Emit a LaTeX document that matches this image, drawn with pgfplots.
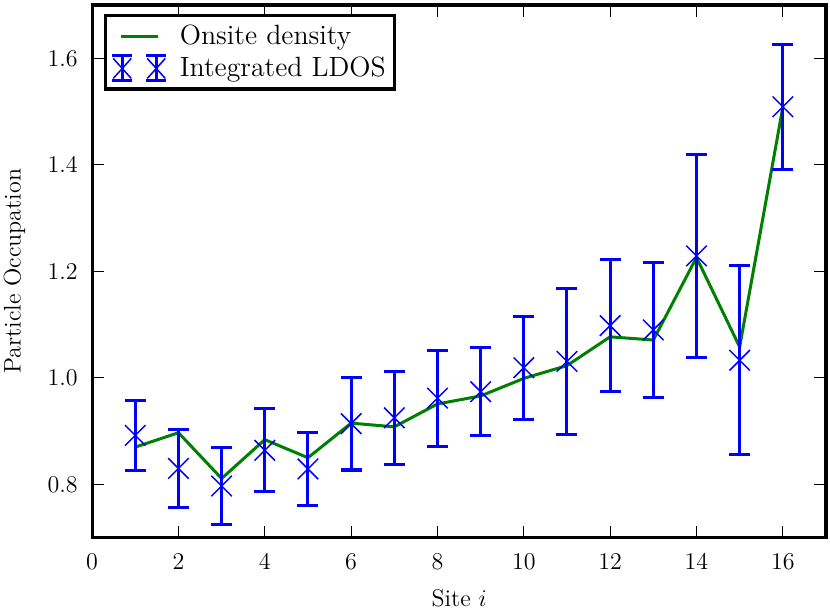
\documentclass[border=0pt,12pt]{standalone}
\usepackage{pgfplots}
\pgfplotsset{compat=1.18}
\definecolor{mplblue}{RGB}{0,0,255}
\definecolor{mplgreen}{RGB}{0,128,0}

% onsite density (green line)
\pgfplotstableread{
site dens
1  0.870
2  0.897
3  0.811
4  0.884
5  0.850
6  0.915
7  0.908
8  0.951
9  0.966
10 0.999
11 1.023
12 1.077
13 1.071
14 1.226
15 1.058
16 1.508
}\onsite

% integrated LDOS with error
\pgfplotstableread{
site occ err
1  0.892 0.066
2  0.830 0.073
3  0.797 0.072
4  0.864 0.078
5  0.829 0.069
6  0.914 0.087
7  0.925 0.087
8  0.962 0.090
9  0.974 0.083
10 1.019 0.097
11 1.031 0.137
12 1.098 0.124
13 1.090 0.126
14 1.229 0.190
15 1.033 0.177
16 1.509 0.117
}\ldos

\begin{document}
\begin{tikzpicture}
\begin{axis}[
  scale only axis,
  width=366.5pt, height=266pt,
  xmin=0, xmax=17, ymin=0.7, ymax=1.7,
  xtick={0,2,4,6,8,10,12,14,16},
  ytick={0.8,1.0,1.2,1.4,1.6},
  yticklabel={\pgfmathprintnumber[fixed,fixed zerofill,precision=1]{\tick}},
  tick align=inside,
  major tick length=6pt,
  tick style={black, line width=0.5pt},
  axis line style={line width=1.6pt},
  x tick label style={yshift=-4pt},
  y tick label style={xshift=-3pt},
  xlabel={Site $i$},
  ylabel={Particle Occupation},
  xlabel style={at={(axis description cs:0.5,-0.1147)}, anchor=center},
  ylabel style={at={(axis description cs:-0.1057,0.5)}, anchor=center},
  legend cell align=left,
  legend style={at={(0,1)}, anchor=north west, xshift=6pt, yshift=-4.5pt,
    font=\fontsize{13.9}{16}\selectfont,
    draw=black, line width=1.6pt, fill=white, row sep=0.5pt,
    inner xsep=2.5pt, inner ysep=2.5pt,
    /tikz/every odd column/.append style={column sep=4pt}},
]
\addplot[mplgreen, line width=1.5pt, mark=none,
  legend image code/.code={
    \path[draw=none, fill=none] (-5.75pt,-7pt) rectangle (22.75pt,7pt);
    \draw[mplgreen, line width=1.5pt] (-0.5pt,0pt) -- (18pt,0pt);
  },
] table[x=site, y=dens] {\onsite};
\addlegendentry{Onsite density}

\addplot[mplblue, only marks, mark=x, mark size=7.25pt, mark options={line width=0.75pt},
  legend image code/.code={
    \draw[mplblue, line width=1.5pt]
      (0pt,-6.25pt) -- (0pt,6.25pt)
      (-5pt,-6.25pt) -- (5pt,-6.25pt)
      (-5pt,6.25pt) -- (5pt,6.25pt)
      (17pt,-6.25pt) -- (17pt,6.25pt)
      (12pt,-6.25pt) -- (22pt,-6.25pt)
      (12pt,6.25pt) -- (22pt,6.25pt);
    \draw[mplblue, line width=0.75pt]
      (-4.5pt,-5pt) -- (4.5pt,5pt) (-4.5pt,5pt) -- (4.5pt,-5pt)
      (12.5pt,-5pt) -- (21.5pt,5pt) (12.5pt,5pt) -- (21.5pt,-5pt);
  },
  error bars/.cd, y dir=both, y explicit,
  error bar style={mplblue, line width=1.5pt},
  error mark options={rotate=90, mark size=5.25pt, line width=1.5pt, mplblue},
] table[x=site, y=occ, y error=err] {\ldos};
\addlegendentry{Integrated LDOS}
\end{axis}
\pgfresetboundingbox
\path ([xshift=-46pt,yshift=-39pt]current axis.south west) rectangle ([xshift=2pt,yshift=2.5pt]current axis.north east);
\end{tikzpicture}
\end{document}
